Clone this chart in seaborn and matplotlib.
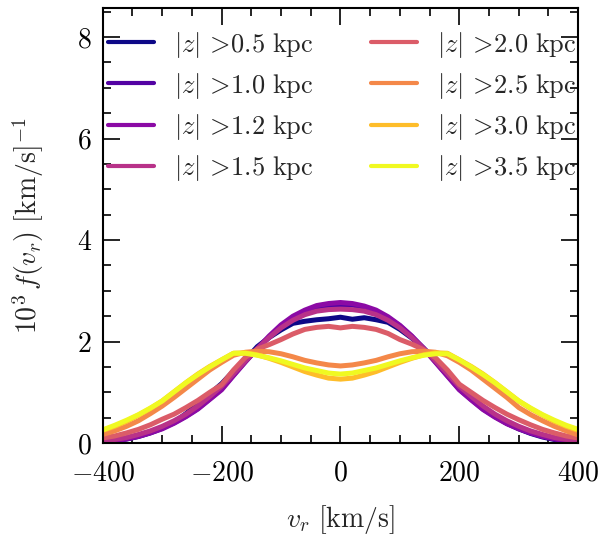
import numpy as np
import pandas as pd
import matplotlib
matplotlib.use("Agg")
import matplotlib.pyplot as plt
import seaborn as sns
from matplotlib.ticker import MultipleLocator

# ---------------- data ----------------
v_r = list(range(-400, 401, 20))

z_cuts = ["0.5", "1.0", "1.2", "1.5", "2.0", "2.5", "3.0", "3.5"]

f_z05 = [0.02, 0.04, 0.08, 0.13, 0.20, 0.29, 0.41, 0.58, 0.78, 0.97, 1.17,
         1.42, 1.64, 1.90, 2.08, 2.23, 2.36, 2.40, 2.43, 2.45, 2.48,
         2.44, 2.47, 2.43, 2.38, 2.24, 2.07, 1.86, 1.66, 1.38, 1.10,
         0.88, 0.70, 0.53, 0.39, 0.28, 0.19, 0.12, 0.07, 0.04, 0.02]
f_z10 = [0.03, 0.05, 0.09, 0.14, 0.21, 0.30, 0.40, 0.53, 0.68, 0.87, 1.07,
         1.34, 1.61, 1.86, 2.09, 2.30, 2.47, 2.58, 2.67, 2.70, 2.73,
         2.72, 2.67, 2.59, 2.47, 2.31, 2.10, 1.87, 1.60, 1.33, 1.06,
         0.86, 0.67, 0.52, 0.39, 0.29, 0.20, 0.14, 0.09, 0.05, 0.03]
f_z12 = [0.03, 0.05, 0.08, 0.13, 0.20, 0.28, 0.39, 0.52, 0.67, 0.86, 1.05,
         1.33, 1.60, 1.86, 2.11, 2.33, 2.50, 2.62, 2.71, 2.75, 2.77,
         2.75, 2.70, 2.62, 2.49, 2.32, 2.11, 1.86, 1.59, 1.32, 1.05,
         0.85, 0.66, 0.51, 0.38, 0.28, 0.20, 0.13, 0.08, 0.05, 0.03]
f_z15 = [0.05, 0.07, 0.11, 0.17, 0.24, 0.33, 0.44, 0.57, 0.73, 0.92, 1.12,
         1.37, 1.62, 1.86, 2.08, 2.27, 2.42, 2.53, 2.60, 2.63, 2.64,
         2.63, 2.60, 2.53, 2.42, 2.27, 2.08, 1.86, 1.62, 1.37, 1.12,
         0.92, 0.73, 0.57, 0.44, 0.33, 0.24, 0.17, 0.11, 0.07, 0.05]
f_z20 = [0.10, 0.14, 0.20, 0.27, 0.36, 0.47, 0.57, 0.70, 0.84, 1.00, 1.15,
         1.44, 1.69, 1.85, 1.94, 2.04, 2.15, 2.24, 2.28, 2.30, 2.27,
         2.30, 2.28, 2.24, 2.16, 2.04, 1.95, 1.84, 1.68, 1.44, 1.16,
         1.00, 0.84, 0.70, 0.57, 0.46, 0.36, 0.27, 0.20, 0.14, 0.10]
f_z25 = [0.17, 0.24, 0.33, 0.44, 0.58, 0.73, 0.90, 1.08, 1.26, 1.44, 1.59,
         1.73, 1.79, 1.81, 1.80, 1.76, 1.70, 1.63, 1.58, 1.54, 1.52,
         1.54, 1.58, 1.63, 1.70, 1.76, 1.80, 1.81, 1.79, 1.72, 1.59,
         1.44, 1.26, 1.08, 0.90, 0.70, 0.56, 0.44, 0.33, 0.24, 0.16]
f_z30 = [0.25, 0.33, 0.43, 0.55, 0.68, 0.83, 1.01, 1.19, 1.36, 1.51, 1.64,
         1.77, 1.78, 1.74, 1.67, 1.59, 1.50, 1.41, 1.34, 1.28, 1.26,
         1.28, 1.34, 1.41, 1.50, 1.59, 1.67, 1.74, 1.78, 1.77, 1.64,
         1.51, 1.36, 1.19, 1.01, 0.83, 0.68, 0.55, 0.43, 0.33, 0.25]
f_z35 = [0.26, 0.35, 0.45, 0.56, 0.69, 0.83, 1.01, 1.19, 1.35, 1.50, 1.64,
         1.77, 1.77, 1.73, 1.68, 1.62, 1.55, 1.48, 1.43, 1.38, 1.36,
         1.38, 1.43, 1.48, 1.55, 1.62, 1.68, 1.73, 1.76, 1.76, 1.64,
         1.50, 1.35, 1.19, 1.01, 0.83, 0.69, 0.56, 0.45, 0.35, 0.27]

series = [f_z05, f_z10, f_z12, f_z15, f_z20, f_z25, f_z30, f_z35]

# ---------------- style ----------------
sns.set_theme(style="ticks")
plt.rcParams.update({
    "font.family": "serif",
    "font.serif": ["cmr10", "DejaVu Serif"],
    "mathtext.fontset": "cm",
    "axes.formatter.use_mathtext": True,
    "axes.unicode_minus": True,
    "axes.linewidth": 1.5,
    "axes.edgecolor": "black",
})

labels = [r"$|z|\,>\!" + z + r"\ \mathrm{kpc}$" for z in z_cuts]
cmap = plt.get_cmap("plasma")
colors = [cmap(x) for x in np.linspace(0, 1, len(z_cuts))]
palette = dict(zip(labels, colors))

df = pd.concat(
    [pd.DataFrame({"v": v_r, "f": s, "label": lab}) for s, lab in zip(series, labels)],
    ignore_index=True,
)

fig = plt.figure(figsize=(6.01, 5.43), dpi=100)
ax = fig.add_axes([0.171, 0.184, 0.791, 0.801])

sns.lineplot(data=df, x="v", y="f", hue="label", hue_order=labels,
             palette=palette, linewidth=3.6, ax=ax, legend=True)

ax.set_xlim(-400, 400)
ax.set_ylim(0, 8.57)
ax.xaxis.set_major_locator(MultipleLocator(200))
ax.xaxis.set_minor_locator(MultipleLocator(50))
ax.yaxis.set_major_locator(MultipleLocator(2))
ax.yaxis.set_minor_locator(MultipleLocator(0.5))
ax.tick_params(which="both", direction="in", top=True, right=True,
               colors="black", labelsize=20)
ax.tick_params(which="major", length=12, width=1.2)
ax.tick_params(axis="x", which="major", pad=12)
ax.tick_params(axis="y", which="major", pad=8)
ax.tick_params(which="minor", length=6, width=1.2)

ax.set_xlabel(r"$v_r\ [\mathrm{km/s}]$", fontsize=20, labelpad=12)
ax.set_ylabel(r"$10^3\,f(v_r)\ [\mathrm{km/s}]^{-1}$", fontsize=20, labelpad=22)

handles, labs = ax.get_legend_handles_labels()
leg = ax.legend(handles, labs, ncol=2, frameon=False, loc="upper left",
                bbox_to_anchor=(-0.012, 0.975), borderaxespad=0.0, fontsize=19,
                handlelength=1.75, handletextpad=0.75, columnspacing=2.2,
                labelspacing=0.42)
for h in leg.get_lines():
    h.set_linewidth(3.0)

fig.savefig("out.png", dpi=100)
